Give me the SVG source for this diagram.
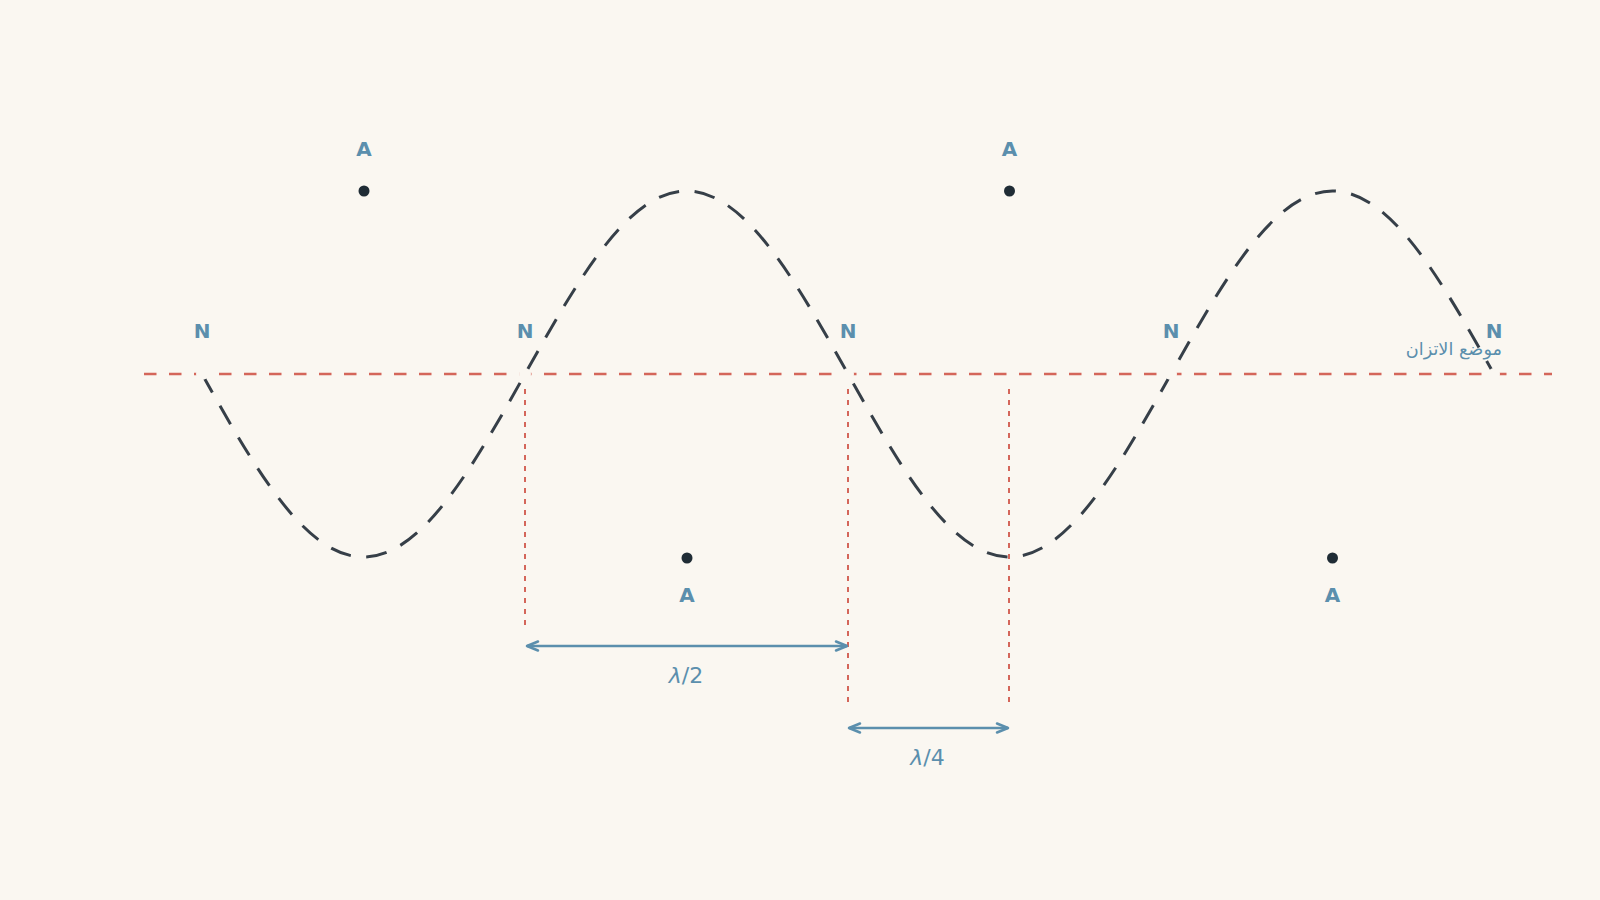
<svg xmlns="http://www.w3.org/2000/svg" width="1600" height="900" viewBox="0 0 1600 900">
  <style>
    .lbl { font-family: "DejaVu Sans", "Liberation Sans", sans-serif; font-weight: bold; font-size: 20px; fill: #5b8fad; text-anchor: middle; }
    .meas { font-family: "DejaVu Sans", "Liberation Sans", sans-serif; font-size: 22px; fill: #5b8fad; text-anchor: middle; }
    .axis { stroke: #d4665a; stroke-width: 2.5; stroke-dasharray: 12.5 12.5; fill: none; }
    .guide { stroke: #d4665a; stroke-width: 2; stroke-dasharray: 5 6; fill: none; }
    .wave { stroke: #363f48; stroke-width: 3; stroke-dasharray: 21 15.5; fill: none; }
    .arrow { stroke: #5b8fad; stroke-width: 2.5; fill: none; marker-start: url(#ah); marker-end: url(#ah); }
    .dot { fill: #1f2c35; }
    .mask { fill: #faf7f1; }
  </style>
  <defs>
    <marker id="ah" viewBox="-14 -7 16 14" refX="0" refY="0" markerWidth="16" markerHeight="14" orient="auto-start-reverse" markerUnits="userSpaceOnUse">
      <path d="M-11,-4.5 L0,0 L-11,4.5" fill="none" stroke="#5b8fad" stroke-width="2.5" stroke-linejoin="round" stroke-linecap="round"/>
    </marker>
  </defs>
  <rect width="1600" height="900" fill="#faf7f1"/>

  <g id="connectors">
    <line id="equilibrium-axis" class="axis" x1="144" y1="374" x2="1552" y2="374"/>
    <path id="standing-wave" class="wave" d="M202,374 C254.7,467.75 305,557 363.5,557 C422,557 472.3,467.75 525,374 C577.7,280.25 628,191 686.5,191 C745,191 795.3,280.25 848,374 C900.7,467.75 951,557 1009.5,557 C1068,557 1118.3,467.75 1171,374 C1223.7,280.25 1274,191 1332.5,191 C1391,191 1441.3,280.25 1494,374"/>
    <line class="guide" x1="525" y1="389" x2="525" y2="627"/>
    <line class="guide" x1="848" y1="389" x2="848" y2="708"/>
    <line class="guide" x1="1009" y1="389" x2="1009" y2="708"/>
    <line id="half-wavelength" class="arrow" x1="527" y1="646" x2="847" y2="646"/>
    <line id="quarter-wavelength" class="arrow" x1="849" y1="728" x2="1008" y2="728"/>
  </g>

  <g id="node-N1"><circle class="mask" cx="202" cy="374" r="6"/><text class="lbl" x="202" y="338">N</text></g>
  <g id="node-N2"><circle class="mask" cx="525" cy="374" r="6"/><text class="lbl" x="525" y="338">N</text></g>
  <g id="node-N3"><circle class="mask" cx="848" cy="374" r="6"/><text class="lbl" x="848" y="338">N</text></g>
  <g id="node-N4"><circle class="mask" cx="1171" cy="374" r="6"/><text class="lbl" x="1171" y="338">N</text></g>
  <g id="node-N5"><circle class="mask" cx="1494" cy="374" r="6"/><text class="lbl" x="1494" y="338">N</text></g>

  <g id="antinode-A1"><circle class="dot" cx="364" cy="191" r="5.5"/><text class="lbl" x="364" y="156">A</text></g>
  <g id="antinode-A2"><circle class="dot" cx="687" cy="558" r="5.5"/><text class="lbl" x="687" y="602">A</text></g>
  <g id="antinode-A3"><circle class="dot" cx="1009.5" cy="191" r="5.5"/><text class="lbl" x="1009.5" y="156">A</text></g>
  <g id="antinode-A4"><circle class="dot" cx="1332.5" cy="558" r="5.5"/><text class="lbl" x="1332.5" y="602">A</text></g>

  <g id="labels">
    <text class="meas" x="686" y="683"><tspan font-style="italic">λ</tspan>/2</text>
    <text class="meas" x="927.5" y="765"><tspan font-style="italic">λ</tspan>/4</text>
    <text x="1502" y="355" font-family="DejaVu Sans, Noto Sans, sans-serif" font-size="17.7" fill="#5b8fad" text-anchor="end">موضع الاتزان</text>
  </g>
</svg>
